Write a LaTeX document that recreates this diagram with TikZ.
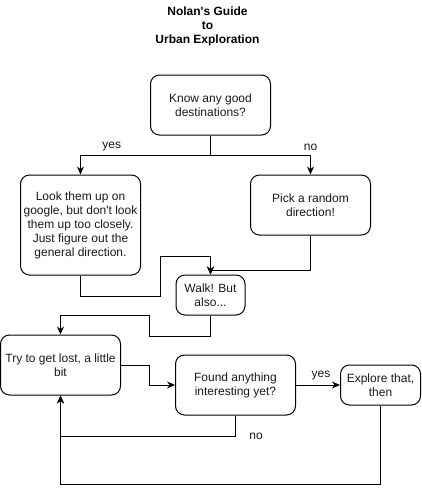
\documentclass[tikz,border=0pt]{standalone}
\usepackage{fontspec}
\setmainfont{Liberation Sans}
\usepackage{tikz}
\usetikzlibrary{arrows.meta, positioning}

\begin{document}
\begin{tikzpicture}[
      x=1pt, y=-1pt,
      card/.style={draw, line width=1pt, rounded corners=9pt, align=center, inner sep=0pt, text=black!90, font=\fontsize{12}{14}\selectfont},
      arrow/.style={-{Stealth[length=8pt, width=7pt]}, line width=1pt},
      lbl/.style={text=black!90, font=\fontsize{12}{14}\selectfont}
    ]
      \useasboundingbox (0,0) rectangle (422,496);
      \node[align=center, font=\bfseries\fontsize{12}{14}\selectfont] (title) at (207.5,26) {Nolan\textquotesingle s Guide\\to\\Urban Exploration};
      \node[card, minimum width=120pt, minimum height=60pt] (know) at (210.5,105) {Know any good\\destinations?};
      \node[card, minimum width=120pt, minimum height=100pt] (look) at (80.5,225) {Look them up on\\google, but don\textquotesingle t look\\them up too closely.\\Just figure out the\\general direction.};
      \node[card, minimum width=120pt, minimum height=60pt] (pick) at (310.5,205) {Pick a random\\direction!};
      \node[card, minimum width=69pt, minimum height=40pt] (walk) at (210.5,295) {Walk! But\\also...};
      \node[card, minimum width=120pt, minimum height=60pt] (try) at (60.5,365) {Try to get lost, a little\\bit};
      \node[card, minimum width=120pt, minimum height=60pt] (found) at (235.5,385) {Found anything\\interesting yet?};
      \node[card, minimum width=80pt, minimum height=40pt] (explore) at (380.5,385) {Explore that,\\then};
      % first question
      \draw[arrow] (know.south) -- ++(0,20) -| (look.north) node[lbl, pos=0.38, above=1pt] {yes};
      \draw[arrow] (know.south) -- ++(0,20) -| (pick.north) node[lbl, pos=0.5, above=1pt] {no};
      % both ways lead to walking
      \draw[arrow] (look.south) -- ++(0,21) -- ++(79.5,0) -- ++(0,-40) -| (walk.north);
      \draw[arrow] (pick.south) -- ++(0,35) -| (walk.north);
      \draw[arrow] (walk.south) -- ++(0,21) -- ++(-61.5,0) -- ++(0,-21) -| (try.north);
      \draw[arrow] (try.east) -- ++(28.5,0) |- (found.west);
      \draw[arrow] (found.east) -- (explore.west) node[lbl, midway, above=1pt, xshift=3pt] {yes};
      % loop back
      \draw[arrow] (found.south) -- ++(0,21) node[lbl, right=10pt] {no} -| (try.south);
      \draw[arrow] (explore.south) -- ++(0,79) -| (try.south);
    \end{tikzpicture}
\end{document}
